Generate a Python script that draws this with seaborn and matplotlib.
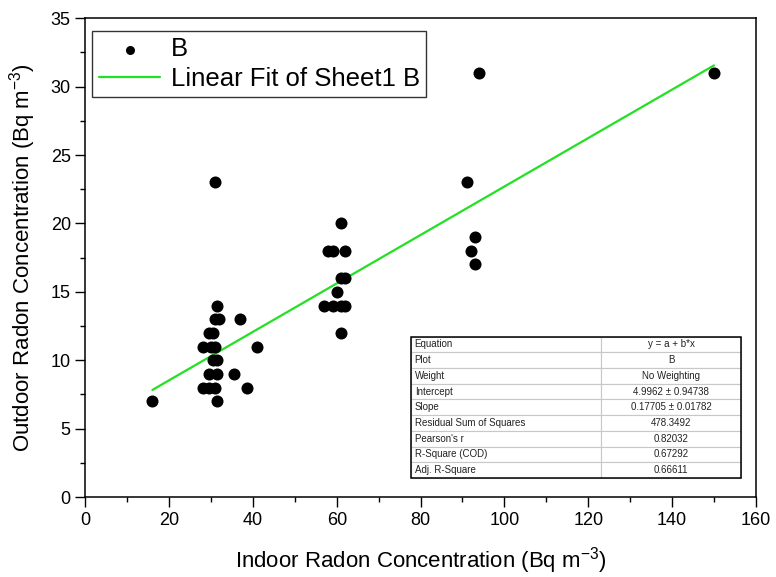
import numpy as np
import pandas as pd
import matplotlib
matplotlib.use("Agg")
import matplotlib.pyplot as plt
import seaborn as sns
from matplotlib.ticker import MultipleLocator

# indoor / outdoor radon concentrations
indoor = [16, 31, 31.5, 31, 32, 37, 29.5, 30.5, 28, 30, 31, 41,
          30.5, 31.5, 29.5, 31.5, 35.5, 28, 29.5, 31, 38.5, 31.5,
          61, 58, 59, 62, 61, 62, 60, 57, 59, 61, 62, 61,
          94, 91, 93, 92, 93, 150]
outdoor = [7, 23, 14, 13, 13, 13, 12, 12, 11, 11, 11, 11,
           10, 10, 9, 9, 9, 8, 8, 8, 8, 7,
           20, 18, 18, 18, 16, 16, 15, 14, 14, 14, 14, 12,
           31, 23, 19, 18, 17, 31]

# linear fit results as reported in the table
intercept = 4.9962
slope = 0.17705
stat_names = ["Equation", "Plot", "Weight", "Intercept", "Slope",
              "Residual Sum of Squares", "Pearson's r", "R-Square (COD)",
              "Adj. R-Square"]
stat_values = ["y = a + b*x", "B", "No Weighting", "4.9962 \u00b1 0.94738",
               "0.17705 \u00b1 0.01782", "478.3492", "0.82032", "0.67292",
               "0.66611"]

df = pd.DataFrame({"indoor": indoor, "outdoor": outdoor})
fit_x = np.array([min(indoor), max(indoor)])
fit = pd.DataFrame({"x": fit_x, "y": intercept + slope * fit_x})

sns.set_style("ticks", {"text.color": "black", "axes.labelcolor": "black",
                        "xtick.color": "black", "ytick.color": "black"})
plt.rcParams["font.family"] = ["Liberation Sans", "DejaVu Sans"]

fig = plt.figure(figsize=(7.76, 5.77), dpi=100)
ax = fig.add_axes([0.110, 0.1386, 0.864, 0.8297])

sns.scatterplot(data=df, x="indoor", y="outdoor", ax=ax, color="black",
                s=75, linewidth=0, label="B", zorder=3)
sns.lineplot(data=fit, x="x", y="y", ax=ax, color="#22e022", linewidth=1.6,
             label="Linear Fit of Sheet1 B", zorder=2)

ax.set_xlim(0, 160)
ax.set_ylim(0, 35)
ax.xaxis.set_major_locator(MultipleLocator(20))
ax.xaxis.set_minor_locator(MultipleLocator(10))
ax.yaxis.set_major_locator(MultipleLocator(5))
ax.yaxis.set_minor_locator(MultipleLocator(2.5))
ax.tick_params(which="major", direction="out", length=7, width=1,
               labelsize=13, color="black", labelcolor="black")
ax.tick_params(which="minor", direction="out", length=3.5, width=1)
ax.tick_params(top=False, right=False, which="both")
for sp in ax.spines.values():
    sp.set_visible(True)
    sp.set_linewidth(1.1)
    sp.set_color("black")

ax.set_xlabel(r"Indoor Radon Concentration (Bq m$^{\mathregular{-3}}$)",
              fontsize=16, labelpad=12, color="black")
ax.set_ylabel(r"Outdoor Radon Concentration (Bq m$^{\mathregular{-3}}$)",
              fontsize=16, labelpad=9, color="black")

leg = ax.legend(loc="upper left", bbox_to_anchor=(0.0103, 0.9735),
                borderaxespad=0, fontsize=18.5, frameon=True, fancybox=False,
                handlelength=2.4, handletextpad=0.4, borderpad=0.25,
                labelspacing=0.2, markerscale=0.75)
leg.get_frame().set_edgecolor("black")
leg.get_frame().set_linewidth(1.0)
for t in leg.get_texts():
    t.set_color("black")

# fit statistics table in the lower right
cells = [[n, v] for n, v in zip(stat_names, stat_values)]
tbl = ax.table(cellText=cells, colWidths=[0.577, 0.423],
               bbox=[0.4855, 0.0397, 0.4925, 0.2955], zorder=5)
tbl.auto_set_font_size(False)
tbl.set_fontsize(7)
for (r, c), cell in tbl.get_celld().items():
    cell.set_edgecolor("#c8c8c8")
    cell.set_linewidth(0.8)
    cell.set_facecolor("white")
    cell.get_text().set_color("#222222")
    if c == 0:
        cell.set_text_props(ha="left")
        cell.PAD = 0.02
    else:
        cell.set_text_props(ha="center")
border = plt.Rectangle((0.4855, 0.0397), 0.4925, 0.2955, transform=ax.transAxes,
                       fill=False, edgecolor="black", linewidth=1.1, zorder=6)
ax.add_patch(border)

fig.savefig("out.png", dpi=100)
